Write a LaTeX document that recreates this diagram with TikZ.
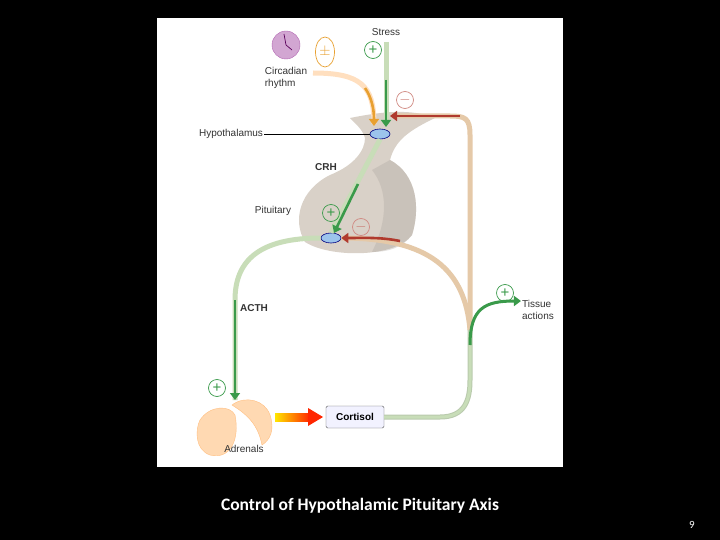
\documentclass[tikz,border=0pt]{standalone}
\usepackage{fontspec}
\setmainfont{Liberation Sans}
\newfontfamily\capfont{Carlito}
\usetikzlibrary{arrows.meta,shapes.geometric}
\definecolor{gr}{HTML}{3A9A4A}
\definecolor{grl}{HTML}{C8DDB8}
\definecolor{rd}{HTML}{B03A2E}
\definecolor{rdl}{HTML}{E5C9A8}
\definecolor{org}{HTML}{E8A030}
\definecolor{gland}{HTML}{D9D1C8}
\definecolor{ov}{HTML}{9CC4EC}
\tikzset{
 lbl/.style={font=\fontsize{10}{12}\selectfont, align=left, inner sep=1pt, text=black!80},
 sign/.style={circle, draw, line width=0.7pt, minimum size=17pt, inner sep=0pt, font=\fontsize{15}{15}\selectfont},
 recep/.style={ellipse, draw=blue!50!black, fill=ov, minimum width=20pt, minimum height=10pt, inner sep=0pt, line width=0.6pt},
 grarrow/.style={draw=grl, line width=5pt},
 grhead/.style={draw=gr, line width=2.6pt, -{Triangle[length=7pt,width=10pt]}},
 rdline/.style={draw=rdl, line width=5pt},
 rdhead/.style={draw=rd, line width=2.6pt, -{Triangle[length=7pt,width=10pt]}},
}
\begin{document}
\begin{tikzpicture}[x=1pt,y=-1pt]
\useasboundingbox (0,0) rectangle (720,540);
\fill[black] (0,0) rectangle (720,540);
\fill[white] (157,18) rectangle (563,467);
% gland
\fill[gland] (350,118) .. controls (380,112) and (410,108) .. (435,118)
  .. controls (410,130) and (395,140) .. (390,160)
  .. controls (418,175) and (420,210) .. (412,235)
  .. controls (395,258) and (330,258) .. (305,242)
  .. controls (292,220) and (300,190) .. (330,175)
  .. controls (355,165) and (365,150) .. (365,138)
  .. controls (362,128) and (355,124) .. (350,118) -- cycle;
\fill[gland!80!black,opacity=0.35] (390,160) .. controls (418,175) and (420,210) .. (412,235)
  .. controls (402,248) and (388,252) .. (372,252) .. controls (388,220) and (388,190) .. (372,170) -- cycle;
% clock
\node[circle, draw=violet!60, fill=violet!35, minimum size=28pt, inner sep=0pt] (clock) at (286,45) {};
\draw[violet!70!black, line width=0.7pt] (clock.center) -- (284,34) (clock.center) -- (292,50);
\node[lbl] (circ) at (286,78) {Circadian\\rhythm};
\node[ellipse, draw=org, text=org, minimum width=19pt, minimum height=30pt, inner sep=0pt, line width=0.7pt, font=\fontsize{15}{15}\selectfont] (pm) at (325,52) {$\pm$};
\node[lbl] (stress) at (386,32) {Stress};
\node[sign, draw=gr, text=gr] (p1) at (373,50) {+};
\node[recep] (hyp) at (380,134) {};
\node[recep] (pit) at (331,238) {};
\node[lbl] (hyplab) at (231,134) {Hypothalamus};
\draw[line width=0.5pt] (hyplab.east) -- (hyp.west);
\node[lbl, font=\bfseries\fontsize{10}{12}\selectfont] (crh) at (326,167) {CRH};
\node[lbl] (pitlab) at (273,211) {Pituitary};
\node[lbl, font=\bfseries\fontsize{10}{12}\selectfont] (acth) at (254,308) {ACTH};
% circadian arrow
\draw[draw=orange!25, line width=5pt] (313,73) .. controls (360,73) and (374,85) .. (374,124);
\draw[draw=org, line width=2.6pt, -{Triangle[length=7pt,width=10pt]}] (365,88) .. controls (372,98) and (374,110) .. (374,126);
% stress
\draw[grarrow] (386,42) -- (386,124);
\draw[grhead] (386,80) -- (386,127);
% feedback to hypothalamus
\coordinate (fb) at (470,330);
\draw[rdline] (fb) -- (470,135) .. controls (470,118) and (465,116) .. (450,116) -- (392,116);
\draw[rdhead] (460,116) -- (390,116);
\node[sign, draw=rd!60, text=rd!70] (m1) at (405,100) {$-$};
% CRH arrow
\draw[grarrow] (hyp.south) -- (pit.north);
\draw[grhead] (358,184) -- (334,233);
\node[sign, draw=gr, text=gr] (p2) at (331,213) {+};
% feedback to pituitary
\draw[rdline] (fb) .. controls (465,270) and (430,238) .. (pit.east);
\draw[rdhead] (400,241) .. controls (380,237) and (365,238) .. (pit.east);
\node[sign, draw=rd!60, text=rd!70] (m2) at (361,227) {$-$};
% ACTH
\coordinate (adr) at (235,400);
\draw[grarrow] (pit.west) .. controls (260,238) and (235,260) .. (235,300) -- (adr);
\draw[grhead] (235,300) -- (adr);
\node[sign, draw=gr, text=gr] (p3) at (217,388) {+};
% adrenals
\fill[orange!30, draw=orange!50] (200,420) .. controls (210,405) and (230,405) .. (235,415) .. controls (240,440) and (230,460) .. (210,455) .. controls (195,450) and (195,430) .. (200,420) -- cycle;
\fill[orange!30, draw=orange!50] (232,405) .. controls (245,395) and (265,400) .. (270,415) .. controls (275,430) and (270,440) .. (262,445) .. controls (258,425) and (248,415) .. (232,405) -- cycle;
\node[lbl] (adrlab) at (244,449) {Adrenals};
\node[draw=gray!70!black, fill=blue!5, rounded corners=1.5pt, minimum width=58pt, minimum height=22pt, font=\bfseries\fontsize{10}{12}\selectfont] (cort) at (355,417) {Cortisol};
\shade[left color=yellow!80!orange, right color=red!70!orange] (275,413) rectangle (310,421);
\fill[red!70!orange] (308,408) -- (323,417) -- (308,426) -- cycle;
% cortisol out
\draw[draw=grl!80!gray, line width=5pt] (cort.east) -- (440,417) .. controls (465,417) and (470,400) .. (470,380) -- (fb);
\draw[draw=grl, line width=3pt] (cort.east) -- (440,417) .. controls (465,417) and (470,400) .. (470,380) -- (fb);
\node[lbl] (tissue) at (538,310) {Tissue\\actions};
\draw[gr, line width=3pt, -{Triangle[length=7pt,width=10pt]}] (470,345) .. controls (470,308) and (485,301) .. (tissue.west|-0,301);
\node[sign, draw=gr, text=gr] (p4) at (505,293) {+};
% caption
\node[text=white, font=\capfont\bfseries\fontsize{17.5}{18}\selectfont] (cap) at (360,506) {Control of Hypothalamic Pituitary Axis};
\node[text=white, font=\capfont\fontsize{11}{12}\selectfont] (pg) at (692,525) {9};
\end{tikzpicture}
\end{document}
